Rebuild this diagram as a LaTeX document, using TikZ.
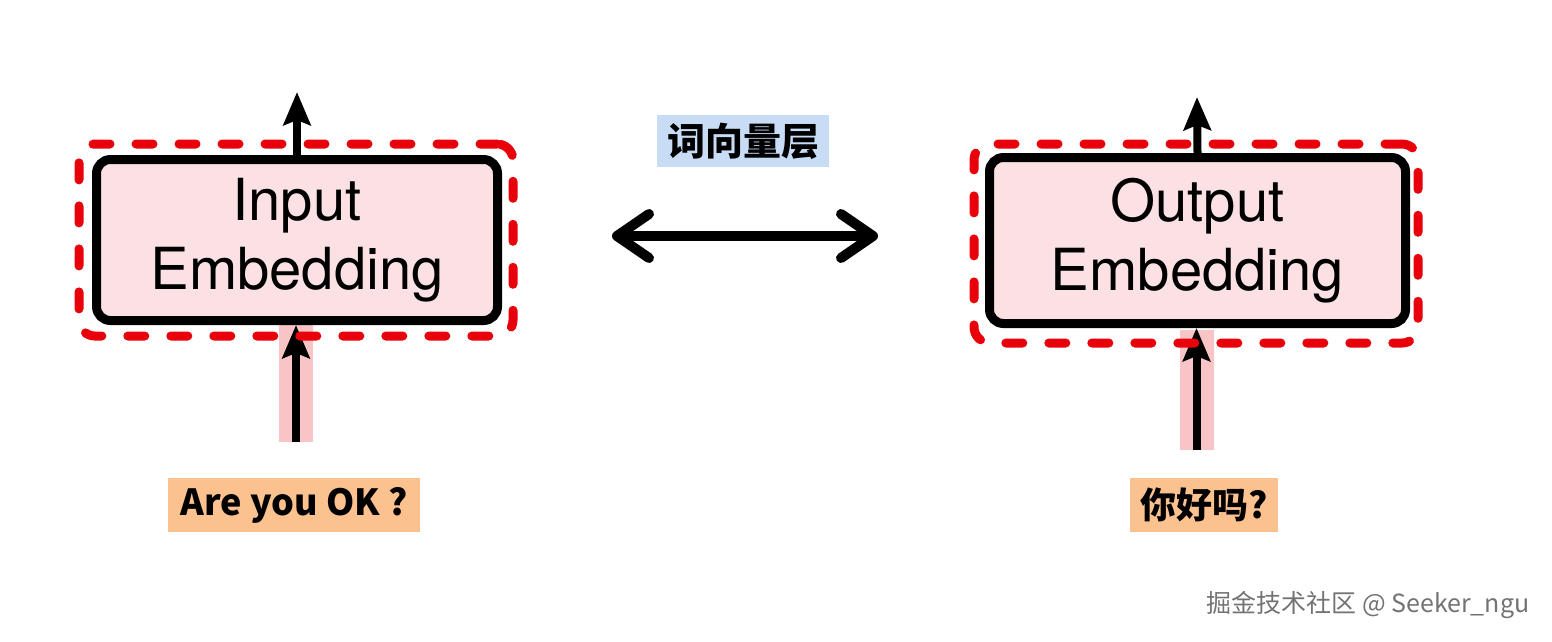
\documentclass[tikz,border=0pt]{standalone}
\usepackage{fontspec}
\setmainfont{TeX Gyre Heros}
\newfontfamily\cjk{Noto Sans CJK SC}
\usetikzlibrary{arrows.meta}
\usetikzlibrary{positioning}

\definecolor{boxpink}{RGB}{252,225,228}
\definecolor{dashred}{RGB}{232,0,10}
\definecolor{glowpink}{RGB}{249,196,198}
\definecolor{tagpeach}{RGB}{251,193,143}
\definecolor{tagblue}{RGB}{201,220,246}

\begin{document}
\begin{tikzpicture}[x=1pt,y=-1pt,
  embbox/.style={draw=black,line width=9pt,rounded corners=14pt,fill=boxpink,align=center,
    inner sep=0pt,font=\fontsize{58}{69}\selectfont},
  frame/.style={draw=dashred,line width=9pt,rounded corners=16pt,line cap=round,
    dash pattern=on 17pt off 26pt,inner sep=0pt},
  glow/.style={fill=glowpink,inner sep=0pt,minimum width=34pt},
  flow/.style={draw=black,line width=8pt,-{Stealth[length=33pt,width=27pt,inset=5pt]}},
  tag/.style={inner sep=0pt,minimum height=54pt,font=\cjk\bfseries\fontsize{36}{42}\selectfont},
  both/.style={draw=black,line width=10pt,line cap=round,
    {Straight Barb[length=32pt,width=44pt,line cap=round,line join=round]}-{Straight Barb[length=32pt,width=44pt,line cap=round,line join=round]}}
]
\useasboundingbox (0,0) rectangle (1552,641);

% highlighted inputs
\node[glow,minimum height=117pt] (inglow) at (296,383.5) {};
\node[glow,minimum height=120pt] (outglow) at (1196.5,390) {};

% boxes
\node[embbox,minimum width=401pt,minimum height=161pt] (inbox) at (297,240) {Input\\Embedding};
\node[embbox,minimum width=416pt,minimum height=166pt] (outbox) at (1197.5,240.5) {Output\\Embedding};

\coordinate (inup) at (297,92);
\coordinate (outup) at (1197,97);
\draw[flow] (inglow.south) -- (inglow.south |- inbox.south);
\draw[flow] (outglow.south) -- (outglow.south |- outbox.south);
\draw[flow] (inbox.north) -- (inup);
\draw[flow] (outbox.north) -- (outup);

% dashed frames
\node[frame,minimum width=434pt,minimum height=192pt] (inframe) at (296,240) {};
\node[frame,minimum width=444pt,minimum height=199pt] (outframe) at (1196,243.5) {};

% middle
\node[tag,fill=tagblue,minimum width=172pt,minimum height=52pt,font=\cjk\bfseries\fontsize{38}{44}\selectfont] (layer) at (743,141) {词向量层};
\coordinate (leftend) at (612,236);
\coordinate (rightend) at (878,236);
\draw[both] (leftend) -- (rightend);

% sentences
\node[tag,fill=tagpeach,minimum width=252pt] (entext) at (294,505) {Are you OK ?};
\node[tag,fill=tagpeach,minimum width=148pt] (zhtext) at (1204,505) {你好吗?};

\node[anchor=west,text=black!55,font=\cjk\fontsize{25}{30}\selectfont] (mark) at (1203,605) {掘金技术社区 @ Seeker\_ngu};
\end{tikzpicture}
\end{document}
